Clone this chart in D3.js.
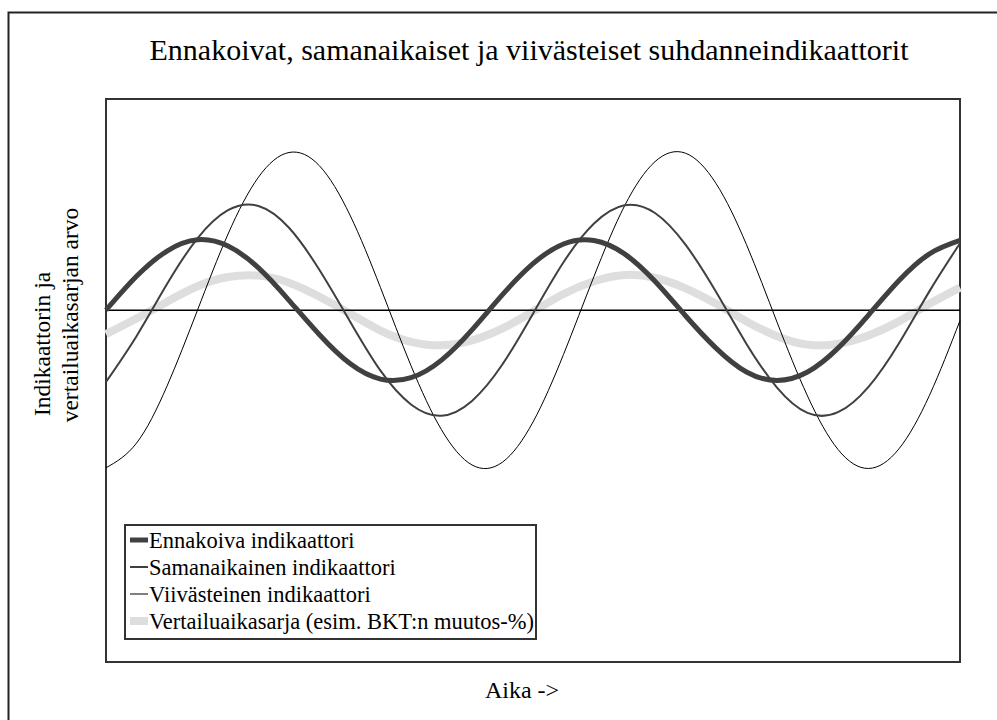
<!DOCTYPE html>
<html>
<head>
<meta charset="utf-8">
<script src="https://d3js.org/d3.v7.min.js"></script>
<style>
  body {
    margin: 0;
    background: #fff;
  }
  svg text {
    fill: #000;
    font-family: "Liberation Serif", "Times New Roman", serif;
  }
</style>
</head>
<body>
<div id="chart"></div>

<script>

// time steps along x (arbitrary units) and readings of each series
var aika = [0, 0.5, 1, 1.5, 2, 2.5, 3, 3.5, 4, 4.5, 5, 5.5, 6, 6.5, 7,
            7.5, 8, 8.5, 9, 9.5, 10, 10.5, 11, 11.5, 12, 12.5, 13, 13.5, 14];

var ennakoiva = [0, 0.48, 0.84, 1.00, 0.91, 0.60, 0.14, -0.35, -0.76, -0.98, -0.96, -0.71, -0.28, 0.22, 0.66,
                 0.94, 0.99, 0.80, 0.41, -0.08, -0.54, -0.88, -1.00, -0.88, -0.54, -0.07, 0.42, 0.80, 0.99];

var samanaikainen = [-1.02, -0.37, 0.37, 1.02, 1.42, 1.48, 1.17, 0.57, -0.16, -0.86, -1.34, -1.50, -1.29, -0.77, -0.05,
                     0.68, 1.23, 1.49, 1.38, 0.93, 0.26, -0.48, -1.10, -1.46, -1.45, -1.09, -0.47, 0.27, 0.95];

var viivasteinen = [-2.24, -1.89, -1.08, 0, 1.08, 1.89, 2.24, 2.05, 1.35, 0.32, -0.79, -1.70, -2.20, -2.16, -1.59,
                    -0.63, 0.48, 1.48, 2.11, 2.23, 1.80, 0.93, -0.17, -1.22, -1.98, -2.25, -1.97, -1.21, -0.15];

var vertailu = [-0.34, -0.12, 0.12, 0.34, 0.47, 0.49, 0.39, 0.19, -0.05, -0.29, -0.45, -0.50, -0.43, -0.26, -0.02,
                0.23, 0.41, 0.50, 0.46, 0.31, 0.09, -0.16, -0.37, -0.49, -0.48, -0.36, -0.16, 0.09, 0.32];

var sarjaNimet = ["Ennakoiva indikaattori", "Samanaikainen indikaattori",
                  "Viivästeinen indikaattori", "Vertailuaikasarja (esim. BKT:n muutos-%)"];

var otsikko = "Ennakoivat, samanaikaiset ja viivästeiset suhdanneindikaattorit";
var yOtsikko = ["Indikaattorin ja", "vertailuaikasarjan arvo"];
var xOtsikko = "Aika ->";

// line looks, same order as sarjaNimet
var tyylit = [
  {color: "#404040", width: 5},
  {color: "#404040", width: 2},
  {color: "#000000", width: 1},
  {color: "#dedede", width: 8}
];

var width = 997, height = 720;
var plot = {left: 106, right: 960, top: 99, bottom: 662};

var svg = d3.select("#chart")
  .append("svg")
    .attr("width", width)
    .attr("height", height);

// outer chart frame (runs past the picture on right and bottom)
svg.append("rect")
    .attr("x", 8.5)
    .attr("y", 12.5)
    .attr("width", 1000)
    .attr("height", 720)
    .attr("fill", "none")
    .attr("stroke", "#222")
    .attr("stroke-width", 2);

var x = d3.scaleLinear()
    .domain([0, 14])
    .range([plot.left, plot.right]);

var y = d3.scaleLinear()
    .domain([-5, 3])
    .range([plot.bottom, plot.top]);

// plot area frame
svg.append("rect")
    .attr("x", plot.left)
    .attr("y", plot.top)
    .attr("width", plot.right - plot.left)
    .attr("height", plot.bottom - plot.top)
    .attr("fill", "none")
    .attr("stroke", "#333")
    .attr("stroke-width", 2);

var line = d3.line()
    .x(function(d) { return x(d[0]); })
    .y(function(d) { return y(d[1]); })
    .curve(d3.curveNatural);

function pairs(vals) {
  return aika.map(function(t, i) { return [t, vals[i]]; });
}

// grey reference series goes behind everything
svg.append("path")
    .attr("d", line(pairs(vertailu)))
    .attr("fill", "none")
    .attr("stroke", tyylit[3].color)
    .attr("stroke-width", tyylit[3].width);

// zero line (x axis)
svg.append("line")
    .attr("x1", x(0))
    .attr("x2", x(14))
    .attr("y1", y(0))
    .attr("y2", y(0))
    .attr("stroke", "#000")
    .attr("stroke-width", 1.5);

var sarjat = [ennakoiva, samanaikainen, viivasteinen];
[2, 1, 0].forEach(function(i) {
  svg.append("path")
      .attr("d", line(pairs(sarjat[i])))
      .attr("fill", "none")
      .attr("stroke", tyylit[i].color)
      .attr("stroke-width", tyylit[i].width);
});

// title
svg.append("text")
    .attr("x", 529)
    .attr("y", 60)
    .attr("text-anchor", "middle")
    .style("font-size", "30px")
    .text(otsikko);

// y axis title, two rotated lines
svg.append("text")
    .attr("transform", "translate(50,344) rotate(-90)")
    .attr("text-anchor", "middle")
    .style("font-size", "23.5px")
    .text(yOtsikko[0]);
svg.append("text")
    .attr("transform", "translate(78,315) rotate(-90)")
    .attr("text-anchor", "middle")
    .style("font-size", "23.5px")
    .text(yOtsikko[1]);

// x axis title
svg.append("text")
    .attr("x", 522)
    .attr("y", 698)
    .attr("text-anchor", "middle")
    .style("font-size", "24px")
    .text(xOtsikko);

// legend
var legend = svg.append("g")
    .attr("transform", "translate(125,525)");

legend.append("rect")
    .attr("x", 0)
    .attr("y", 0)
    .attr("width", 411)
    .attr("height", 114)
    .attr("fill", "#fff")
    .attr("stroke", "#333")
    .attr("stroke-width", 2);

var rows = legend.selectAll("g.row")
    .data(sarjaNimet)
    .enter()
    .append("g")
      .attr("class", "row")
      .attr("transform", function(d, i) { return "translate(0," + (15 + i * 27) + ")"; });

rows.append("line")
    .attr("x1", 5)
    .attr("x2", 23)
    .attr("y1", 0)
    .attr("y2", 0)
    .attr("stroke", function(d, i) { return tyylit[i].color; })
    .attr("stroke-width", function(d, i) { return tyylit[i].width; });

rows.append("text")
    .attr("x", 24)
    .attr("y", 8)
    .style("font-size", "22.5px")
    .text(function(d) { return d; });

</script>
</body>
</html>
